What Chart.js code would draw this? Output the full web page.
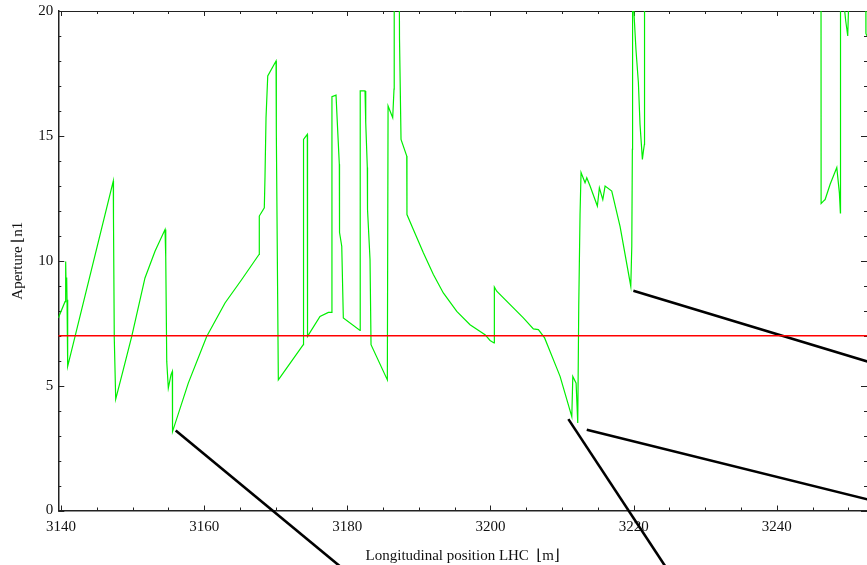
<!DOCTYPE html>
<html>
<head>
<meta charset="utf-8">
<script src="https://cdn.jsdelivr.net/npm/chart.js@4.4.1/dist/chart.umd.min.js"></script>
<style>
  html, body { margin: 0; padding: 0; background: #fff; }
  #wrap { width: 867px; height: 565px; position: relative; }
</style>
</head>
<body>
<div id="wrap"><canvas id="apertureChart"></canvas></div>
<script>
'use strict';

// ── Data ──────────────────────────────────────────────────────
const xTicks = [3140, 3160, 3180, 3200, 3220, 3240];
const yTicks = [0, 5, 10, 15, 20];
const xRange = [3139.62, 3252.6];
const yRange = [0, 20];

// green aperture trace (position s [m], aperture [n1]); values > 20 run off the top
const posS = [
  3139.62, 3140.56, 3140.65, 3140.72, 3140.79, 3140.84, 3140.93,
  3147.30, 3147.33, 3147.44, 3147.64, 3148.70, 3149.88, 3151.73, 3153.13, 3154.53,
  3154.63, 3154.77, 3154.99, 3155.37, 3155.55, 3155.58,
  3157.78, 3160.35, 3162.91, 3165.25, 3167.66, 3167.70, 3168.40, 3168.50, 3168.64, 3168.88,
  3170.04, 3170.08, 3170.36, 3173.85, 3173.88, 3174.41, 3174.44, 3176.18, 3177.35, 3177.82,
  3177.85, 3178.42, 3178.60, 3178.88, 3178.91, 3179.22, 3179.44, 3181.77,
  3181.80, 3182.47, 3182.57, 3182.79, 3182.82, 3183.17, 3183.31, 3185.59,
  3185.69, 3186.34, 3186.52, 3186.55, 3187.20, 3187.29, 3187.50, 3188.30, 3188.33,
  3189.22, 3190.62, 3192.02, 3193.41, 3195.29, 3197.14, 3199.24, 3199.94, 3200.50,
  3200.54, 3200.87, 3204.59, 3205.99, 3206.69, 3207.56, 3209.26, 3209.72, 3211.36,
  3211.50, 3211.96, 3212.19, 3212.33, 3212.51, 3212.65, 3213.21, 3213.45, 3213.91,
  3214.93, 3215.21, 3215.69, 3216.01, 3216.94, 3218.10, 3219.60, 3219.74, 3219.82,
  3219.85, 3219.99, 3220.04, 3220.32, 3220.66, 3220.89, 3221.22, 3221.36, 3221.50,
  3221.52, 3246.17, 3246.19, 3246.51, 3246.75, 3247.45, 3248.38, 3248.74, 3248.88,
  3248.90, 3249.30, 3249.63, 3249.91, 3250.00, 3250.09, 3252.40, 3252.45, 3252.60
];
const apertureN1 = [
  7.71, 8.36, 9.97, 8.85, 9.33, 8.44, 5.77,
  13.19, 11.68, 6.91, 4.46, 5.64, 6.97, 9.31, 10.38, 11.25,
  10.16, 5.97, 4.90, 5.44, 5.57, 3.16,
  5.10, 6.97, 8.31, 9.25, 10.25, 11.79, 12.12, 13.39, 15.73, 17.40,
  18.00, 15.13, 5.23, 6.64, 14.86, 15.06, 6.97, 7.77, 7.93, 7.93,
  16.57, 16.63, 15.53, 13.86, 11.13, 10.58, 7.71, 7.21,
  16.80, 16.80, 15.53, 13.73, 12.05, 10.05, 6.64, 5.23,
  16.20, 15.73, 16.87, 25, 25, 18.87, 14.86, 14.19, 11.85,
  11.25, 10.32, 9.45, 8.71, 7.97, 7.44, 7.04, 6.81, 6.71,
  8.95, 8.78, 7.71, 7.27, 7.24, 6.91, 5.70, 5.37, 3.76,
  5.37, 5.10, 3.50, 8.18, 11.85, 13.53, 13.12, 13.32, 12.99,
  12.19, 12.92, 12.45, 12.99, 12.79, 11.38, 8.98, 10.58, 14.46,
  25, 25, 19.94, 18.47, 17.14, 15.46, 14.06, 14.39, 14.66,
  25, 25, 12.29, 12.39, 12.45, 13.06, 13.73, 12.72, 11.92,
  25, 20.5, 19.60, 19.00, 19.94, 25, 25, 19.10, 19.00
];

// n1 limit
const limitS  = [3139.62, 3252.6];
const limitN1 = [7, 7];

// black leader lines (start on the trace, run off the frame)
const leaderAS = [3156.02, 3180.10], leaderAN = [3.20, -2.50];
const leaderBS = [3210.88, 3225.03], leaderBN = [3.66, -2.50];
const leaderCS = [3213.45, 3254.42], leaderCN = [3.23, 0.32];
const leaderDS = [3219.96, 3254.42], leaderDN = [8.80, 5.81];

const pts = (xs, ys) => xs.map((x, i) => ({ x, y: ys[i] }));

// ── Frame with inward ticks on all four sides ─────────────────
const framePlugin = {
    id: 'frame',
    beforeDatasetsDraw(chart) {
        const { ctx, chartArea: a, scales: { x, y } } = chart;
        ctx.save();
        ctx.strokeStyle = '#222';
        ctx.lineWidth = 1;
        ctx.beginPath();
        ctx.moveTo(a.left, a.top + 0.5); ctx.lineTo(a.right, a.top + 0.5);
        ctx.stroke();
        ctx.beginPath();
        for (let v = xTicks[0]; v <= xRange[1]; v += 5) {
            const px = Math.round(x.getPixelForValue(v)) + 0.5;
            const len = (v - xTicks[0]) % 20 === 0 ? 5 : 3;
            ctx.moveTo(px, a.bottom); ctx.lineTo(px, a.bottom - len);
            ctx.moveTo(px, a.top);    ctx.lineTo(px, a.top + len);
        }
        for (let v = yRange[0]; v <= yRange[1]; v += 1) {
            const py = Math.round(y.getPixelForValue(v)) + 0.5;
            const len = v % 5 === 0 ? 6 : 3;
            ctx.moveTo(a.left, py);  ctx.lineTo(a.left + len, py);
            ctx.moveTo(a.right, py); ctx.lineTo(a.right - len, py);
        }
        ctx.stroke();
        ctx.restore();
    }
};

const serif = "'Liberation Serif', 'DejaVu Serif', serif";

new Chart(document.getElementById('apertureChart'), {
    type: 'line',
    data: {
        datasets: [
            { data: pts(limitS, limitN1), borderColor: '#ff0000', borderWidth: 1.5 },
            { data: pts(posS, apertureN1), borderColor: '#00ee00', borderWidth: 1.2 },
            { data: pts(leaderAS, leaderAN), borderColor: '#000', borderWidth: 2.6, clip: false },
            { data: pts(leaderBS, leaderBN), borderColor: '#000', borderWidth: 2.6, clip: false },
            { data: pts(leaderCS, leaderCN), borderColor: '#000', borderWidth: 2.6, clip: false },
            { data: pts(leaderDS, leaderDN), borderColor: '#000', borderWidth: 2.6, clip: false }
        ]
    },
    options: {
        responsive: true, maintainAspectRatio: false, animation: false,
        layout: { padding: { top: 11, right: 0, left: 0, bottom: 0 } },
        elements: { point: { radius: 0 }, line: { tension: 0 } },
        scales: {
            x: {
                type: 'linear', min: xRange[0], max: xRange[1],
                afterBuildTicks: s => { s.ticks = xTicks.map(v => ({ value: v })); },
                afterFit: s => { s.height = 54.5; s.paddingLeft = 0; s.paddingRight = 0; },
                grid: { display: false, drawTicks: false },
                border: { display: true, color: '#222', width: 1.5 },
                ticks: { color: '#111', font: { family: serif, size: 15 }, padding: 8, maxRotation: 0,
                         callback: v => String(v) },
                title: { display: true, text: 'Longitudinal position LHC  ⌊m⌋', color: '#111',
                         font: { family: serif, size: 15 }, padding: { top: 3, bottom: 0 } }
            },
            y: {
                min: yRange[0], max: yRange[1],
                afterBuildTicks: s => { s.ticks = yTicks.map(v => ({ value: v })); },
                afterFit: s => { s.width = 58.3; s.paddingTop = 0; s.paddingBottom = 0; },
                grid: { display: false, drawTicks: false },
                border: { display: true, color: '#222', width: 1.5 },
                ticks: { color: '#111', font: { family: serif, size: 15 }, padding: 5,
                         callback: v => String(v) },
                title: { display: true, text: 'Aperture ⌊n1', color: '#111',
                         font: { family: serif, size: 15 }, padding: { top: 9, bottom: 6 } }
            }
        },
        plugins: { legend: { display: false }, tooltip: { enabled: false } }
    },
    plugins: [framePlugin]
});
</script>
</body>
</html>
